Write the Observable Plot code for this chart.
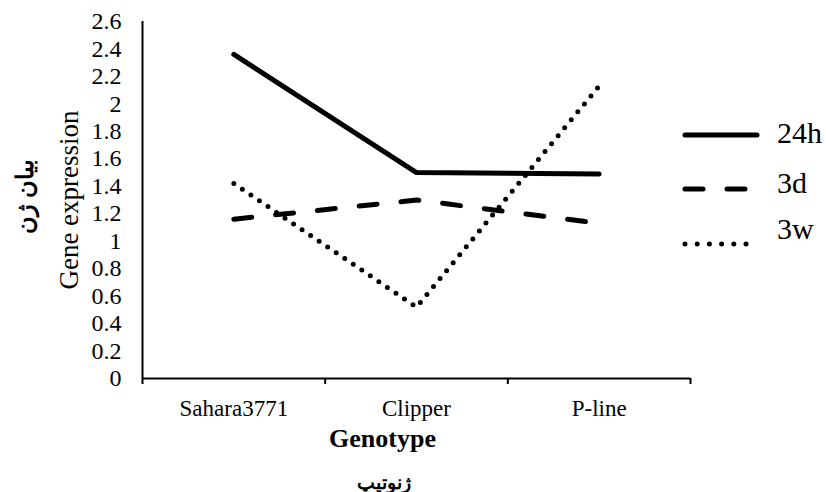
<!DOCTYPE html>
<html>
<head>
<meta charset="utf-8">
<script src="https://cdn.jsdelivr.net/npm/d3@7"></script>
<script src="https://cdn.jsdelivr.net/npm/@observablehq/plot@0.6"></script>
<style>
  html, body { margin: 0; padding: 0; background: #fff; }
  #chart svg { display: block; }
  #chart svg text { font-family: "Liberation Serif", "DejaVu Serif", serif; }
  #chart svg text.fa { font-family: "DejaVu Sans", sans-serif; }
</style>
</head>
<body>
<div id="chart"></div>
<script>
// ---- data ----
const genotypes = ["Sahara3771", "Clipper", "P-line"];
const series = ["24h", "3d", "3w"];
const h24 = [2.36, 1.50, 1.49];
const d3d = [1.16, 1.30, 1.13];
const w3w = [1.42, 0.52, 2.13];
const yTicks = [0, 0.2, 0.4, 0.6, 0.8, 1, 1.2, 1.4, 1.6, 1.8, 2, 2.2, 2.4, 2.6];
const yLabel = "Gene expression";
const yLabelFa = "بیان ژن";
const xLabel = "Genotype";
const xLabelFa = "ژنوتیپ";

const values = [h24, d3d, w3w];
const rows = [];
series.forEach((s, si) => genotypes.forEach((g, gi) => rows.push({series: s, gi, genotype: g, value: values[si][gi]})));

const styles = {
  "24h": {dash: null, width: 5},
  "3d": {dash: "18,24", width: 5},
  "3w": {dash: "0,10.3", width: 5}
};

const lineMarks = series.map(s => Plot.line(rows.filter(r => r.series === s), {
  x: d => d.gi + 0.5, y: "value",
  stroke: "black", strokeWidth: styles[s].width,
  strokeDasharray: styles[s].dash, strokeLinecap: "round", strokeLinejoin: "round"
}));

const plot = Plot.plot({
  width: 826, height: 492,
  marginLeft: 142, marginRight: 136, marginTop: 21, marginBottom: 114,
  style: {background: "#fff", color: "#000"},
  x: {domain: [0, genotypes.length]},
  y: {domain: [0, 2.6]},
  marks: [
    Plot.axisY({ticks: yTicks, tickSize: 0, tickPadding: 21, fontSize: 24, label: null,
      tickFormat: d => String(+d.toFixed(1))}),
    Plot.axisX({ticks: d3.range(genotypes.length + 1), tickSize: 6, tickFormat: () => "", label: null, strokeWidth: 2}),
    Plot.axisX({ticks: genotypes.map((g, i) => i + 0.5), tickSize: 0, tickPadding: 21, fontSize: 23,
      tickFormat: d => genotypes[Math.floor(d)], label: null}),
    Plot.ruleY([0], {strokeWidth: 2}),
    Plot.ruleX([0], {strokeWidth: 2}),
    ...lineMarks,
    Plot.text([yLabel], {frameAnchor: "left", textAnchor: "middle", dx: -73, rotate: -90, fontSize: 27}),
    Plot.text([yLabelFa], {frameAnchor: "left", textAnchor: "middle", dx: -117, dy: -4, rotate: -90, fontSize: 24, fontWeight: "bold", className: "fa"}),
    Plot.text([xLabel], {frameAnchor: "bottom", dx: -34, dy: 68, fontSize: 26, fontWeight: "bold"}),
    Plot.text([xLabelFa], {frameAnchor: "bottom", dx: -33, dy: 110, fontSize: 19, fontWeight: "bold", className: "fa"})
  ]
});

// ---- legend ----
const svg = d3.select(plot);
const leg = svg.append("g").attr("text-anchor", "start");
const legY = [135, 189, 244];
const legTextY = [143, 193, 239];
const legStyles = {"24h": null, "3d": "18,24", "3w": "0,12.2"};
const legEnd = {"24h": 757, "3d": 747, "3w": 748};
series.forEach((s, i) => {
  leg.append("line")
    .attr("x1", 685).attr("x2", legEnd[s])
    .attr("y1", legY[i]).attr("y2", legY[i])
    .attr("stroke", "black").attr("stroke-width", 5)
    .attr("stroke-linecap", "round")
    .attr("stroke-dasharray", legStyles[s]);
  leg.append("text")
    .attr("x", 777).attr("y", legTextY[i])
    .attr("font-size", 30)
    .attr("fill", "black")
    .text(s);
});

document.getElementById("chart").appendChild(plot);
</script>
</body>
</html>
